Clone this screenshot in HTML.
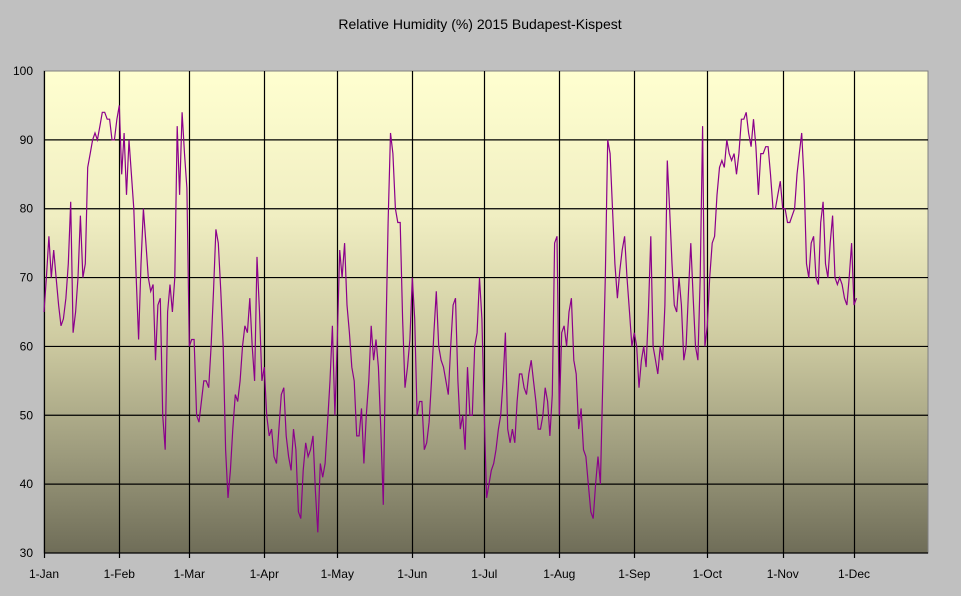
<!DOCTYPE html>
<html><head><meta charset="utf-8"><style>
html,body{margin:0;padding:0;background:#c0c0c0;}
svg{display:block;font-family:"Liberation Sans",Arial,sans-serif;}
</style></head><body>
<svg id="c" width="961" height="596" xmlns="http://www.w3.org/2000/svg">
<defs><linearGradient id="g" x1="0" y1="0" x2="0" y2="1">
<stop offset="0" stop-color="#ffffd0"/>
<stop offset="0.3" stop-color="#f0eec2"/>
<stop offset="0.55" stop-color="#cfcca2"/>
<stop offset="0.8" stop-color="#9c9a7c"/>
<stop offset="1" stop-color="#6f6d58"/>
</linearGradient></defs>
<rect x="0" y="0" width="961" height="596" fill="#c0c0c0"/>
<text x="480" y="29" font-size="14" text-anchor="middle" fill="#000">Relative Humidity (%) 2015 Budapest-Kispest</text>
<rect x="44" y="71" width="884" height="482" fill="url(#g)" stroke="#808080" stroke-width="1"/>
<g id="grid" stroke="#000" stroke-width="1.2"></g>
<g id="lab" font-size="12" fill="#000"></g>
<path id="d" fill="none" stroke="#8b008b" stroke-width="1.2"/>
</svg>
<script>
var ns="http://www.w3.org/2000/svg";
var grid=document.getElementById('grid'),lab=document.getElementById('lab');
function el(p,t,a){var e=document.createElementNS(ns,t);for(var k in a)e.setAttribute(k,a[k]);p.appendChild(e);return e;}
function Y(v){return 553-(v-30)*482/70;}
for(var v=30;v<=100;v+=10){var y=Y(v);if(v>30&&v<100)el(grid,'line',{x1:44,x2:928,y1:y,y2:y});
 var t=el(lab,'text',{x:33,y:y+4,'text-anchor':'end'});t.textContent=v;}
var mx=[44,119.3,189.3,264.3,337.3,412.3,484.3,559.3,634.3,707.3,782.7,854,928];
var names=['1-Jan','1-Feb','1-Mar','1-Apr','1-May','1-Jun','1-Jul','1-Aug','1-Sep','1-Oct','1-Nov','1-Dec'];
for(var i=0;i<12;i++){var x=Math.round(mx[i])+0.5;el(grid,'line',{x1:x,x2:x,y1:71,y2:558});
 var t=el(lab,'text',{x:mx[i],y:578,'text-anchor':'middle'});t.textContent=names[i];}
el(grid,'line',{x1:44,x2:928,y1:553,y2:553});
var M=[
[65,70,76,70,74,70,66,63,64,67,72,81,62,65,70,79,70,72,86,88,90,91,90,92,94,94,93,93,90,90,93],
[95,85,91,82,90,85,80,70,61,72,80,75,70,68,69,58,66,67,50,45,65,69,65,70,92,82,94,88,83],
[60,61,61,50,49,52,55,55,54,60,68,77,75,68,60,45,38,42,48,53,52,55,60,63,62,67,60,55,73,65,55],
[57,50,47,48,44,43,48,53,54,47,44,42,48,45,36,35,42,46,44,45,47,39,33,43,41,43,49,55,63,50],
[61,74,70,75,66,62,57,55,47,47,51,43,50,55,63,58,61,57,48,37,60,78,91,88,80,78,78,64,54,57,61],
[70,64,50,52,52,45,46,49,55,62,68,60,58,57,55,53,60,66,67,55,48,50,45,57,50,50,60,62,70,64],
[50,38,40,42,43,45,48,50,55,62,48,46,48,46,52,56,56,54,53,56,58,55,52,48,48,50,54,52,47,53,75,76],
[50,62,63,60,65,67,58,56,48,51,45,44,40,36,35,40,44,40,55,70,90,88,80,72,67,71,74,76,70,65,60],
[62,60,54,58,60,57,65,76,60,58,56,60,58,66,87,80,72,66,65,70,66,58,60,68,75,67,60,58,70,92,60],
[63,70,75,76,82,86,87,86,90,88,87,88,85,88,93,93,94,91,89,93,89,82,88,88,89,89,85,80,80,82,84],
[80,80,78,78,79,80,85,88,91,84,72,70,75,76,70,69,78,81,72,70,75,79,70,69,70,69,67,66,70,75],
[66,67]];
var d='';
for(var m=0;m<12;m++){var a=M[m],n=a.length,w=(m<11)?(mx[m+1]-mx[m])/n:2.45;
 for(var i=0;i<n;i++){var x=mx[m]+i*w;d+=(d?'L':'M')+x.toFixed(1)+' '+Y(a[i]).toFixed(1);}}
document.getElementById('d').setAttribute('d',d);
</script>
</body></html>
